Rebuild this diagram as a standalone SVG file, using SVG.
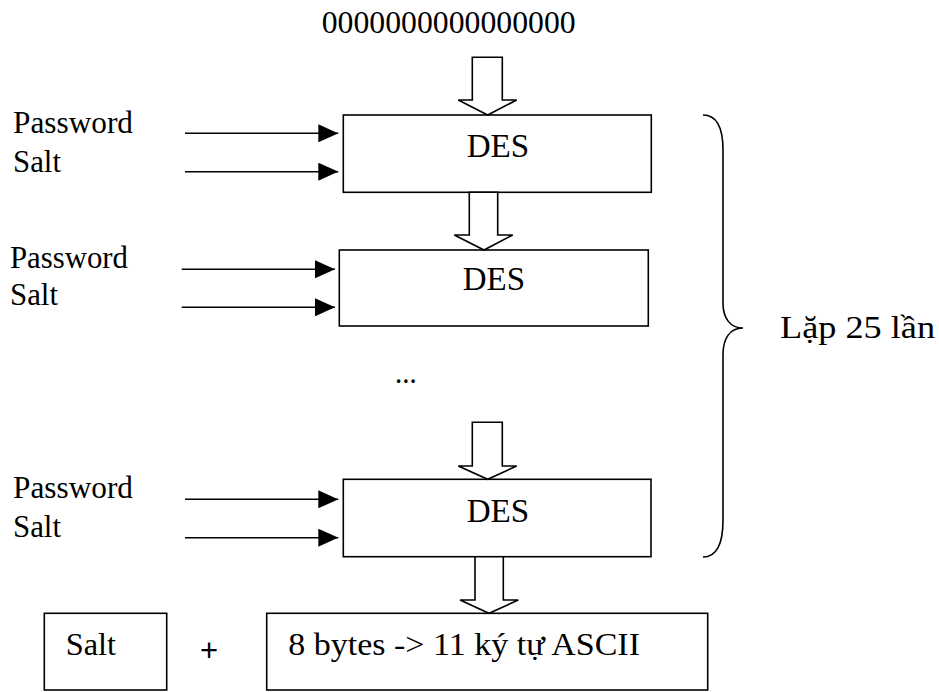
<svg xmlns="http://www.w3.org/2000/svg" width="939" height="692" viewBox="0 0 939 692">
<style>
.t{font-family:"Liberation Serif","Times New Roman",serif;fill:#000}
.box{fill:#fff;stroke:#000;stroke-width:1.6}
.hol{fill:#fff;stroke:#000;stroke-width:1.6;stroke-linejoin:miter}
.ln{stroke:#000;stroke-width:1.6;fill:none}
</style>
<defs>
<marker id="ah" markerWidth="20" markerHeight="18" refX="20" refY="9" orient="auto" markerUnits="userSpaceOnUse">
<path d="M0,0 L20,9 L0,18 Z" fill="#000"/>
</marker>
</defs>
<rect width="939" height="692" fill="#fff"/>

<g id="input-zero">
<text class="t" x="321.7" y="33.3" font-size="31" textLength="254" lengthAdjust="spacingAndGlyphs">0000000000000000</text>
</g>

<g id="labels-1">
<text class="t" x="13" y="133" font-size="31" textLength="120" lengthAdjust="spacingAndGlyphs">Password</text>
<text class="t" x="13" y="171.5" font-size="31" textLength="48" lengthAdjust="spacingAndGlyphs">Salt</text>
</g>
<g id="labels-2">
<text class="t" x="10" y="267.7" font-size="31" textLength="118" lengthAdjust="spacingAndGlyphs">Password</text>
<text class="t" x="10" y="305" font-size="31" textLength="48" lengthAdjust="spacingAndGlyphs">Salt</text>
</g>
<g id="labels-3">
<text class="t" x="13" y="498" font-size="31" textLength="120" lengthAdjust="spacingAndGlyphs">Password</text>
<text class="t" x="13" y="537" font-size="31" textLength="48" lengthAdjust="spacingAndGlyphs">Salt</text>
</g>

<g id="des-1">
<rect class="box" x="343.3" y="115" width="308" height="77.3"/>
<text class="t" x="466.7" y="156.7" font-size="33" textLength="62.6" lengthAdjust="spacingAndGlyphs">DES</text>
</g>
<g id="des-2">
<rect class="box" x="339.3" y="250" width="309" height="76"/>
<text class="t" x="462.7" y="290" font-size="33" textLength="62.3" lengthAdjust="spacingAndGlyphs">DES</text>
</g>
<g id="ellipsis">
<text class="t" x="395" y="383" font-size="31" textLength="21.7" lengthAdjust="spacingAndGlyphs">...</text>
</g>
<g id="des-3">
<rect class="box" x="343.3" y="479.3" width="307.7" height="77.4"/>
<text class="t" x="466.7" y="522.3" font-size="33" textLength="62.6" lengthAdjust="spacingAndGlyphs">DES</text>
</g>

<g id="salt-box">
<rect class="box" x="44.3" y="613.3" width="122.4" height="76.7"/>
<text class="t" x="65.7" y="655" font-size="32" textLength="50.3" lengthAdjust="spacingAndGlyphs">Salt</text>
</g>
<g id="plus">
<text x="209" y="661" font-family="Liberation Sans, Arial, sans-serif" font-size="31" text-anchor="middle">+</text>
</g>
<g id="result-box">
<rect class="box" x="266.7" y="613.3" width="441" height="76.7"/>
<text class="t" x="288.3" y="655" font-size="32" textLength="351.7" lengthAdjust="spacingAndGlyphs">8 bytes -&gt; 11 ký tự ASCII</text>
</g>

<g id="repeat">
<path class="ln" d="M703,115 C716,115 723,125 723,150 L723,303 C723,318 730,328 743,328 C730,328 723,338 723,355 L723,520 C723,545 716,557 703,557"/>
<text class="t" x="780" y="338" font-size="32" textLength="155" lengthAdjust="spacingAndGlyphs">Lặp 25 lần</text>
</g>

<g id="connectors">
<polygon class="hol" points="472.3,57.3 502.3,57.3 502.3,100 516.7,100 487.7,115 458.3,100 472.3,100"/>
<polygon class="hol" points="469.3,192.3 497.7,192.3 497.7,235 512.7,235 484,250 454.3,235 469.3,235"/>
<polygon class="hol" points="472.3,422.3 502.3,422.3 502.3,466 516.7,466 487.7,479.3 458.3,466 472.3,466"/>
<polygon class="hol" points="475,556.7 503.3,556.7 503.3,600 518.3,600 489,613.3 460,600 475,600"/>
<line class="ln" x1="185" y1="133.3" x2="338.3" y2="133.3" marker-end="url(#ah)"/>
<line class="ln" x1="185" y1="171.7" x2="338.3" y2="171.7" marker-end="url(#ah)"/>
<line class="ln" x1="181.7" y1="269.3" x2="335" y2="269.3" marker-end="url(#ah)"/>
<line class="ln" x1="181.7" y1="307.3" x2="335" y2="307.3" marker-end="url(#ah)"/>
<line class="ln" x1="185" y1="499.3" x2="338.3" y2="499.3" marker-end="url(#ah)"/>
<line class="ln" x1="185" y1="537.7" x2="338.3" y2="537.7" marker-end="url(#ah)"/>
</g>
</svg>
